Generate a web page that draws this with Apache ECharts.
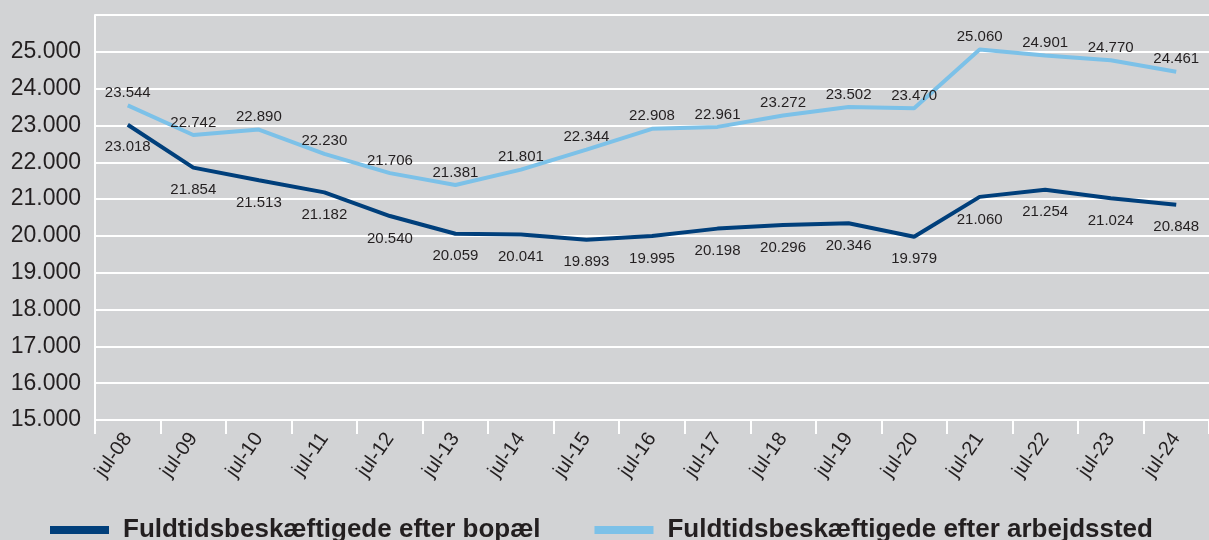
<!DOCTYPE html>
<html lang="da">
<head>
    <meta charset="UTF-8">
    <title>Fuldtidsbeskæftigede</title>
    <script src="https://cdn.jsdelivr.net/npm/echarts@6/dist/echarts.min.js"></script>
    <style>
        html, body { margin: 0; padding: 0; background: #d2d3d5; }
        #main { width: 1209px; height: 540px; }
    </style>
</head>
<body>
<div id="main"></div>
<script type="text/javascript">
    var categories = ['jul-08', 'jul-09', 'jul-10', 'jul-11', 'jul-12', 'jul-13', 'jul-14', 'jul-15', 'jul-16',
        'jul-17', 'jul-18', 'jul-19', 'jul-20', 'jul-21', 'jul-22', 'jul-23', 'jul-24'];
    var bopael = [23018, 21854, 21513, 21182, 20540, 20059, 20041, 19893, 19995,
        20198, 20296, 20346, 19979, 21060, 21254, 21024, 20848];
    var arbejdssted = [23544, 22742, 22890, 22230, 21706, 21381, 21801, 22344, 22908,
        22961, 23272, 23502, 23470, 25060, 24901, 24770, 24461];
    var seriesNames = ['Fuldtidsbeskæftigede efter bopæl', 'Fuldtidsbeskæftigede efter arbejdssted'];

    var textColor = '#231f20';
    var font = 'Liberation Sans, Arial, sans-serif';

    // dansk tusindtalsseparator
    function fmt(v) {
        return String(Math.round(v)).replace(/\B(?=(\d{3})+(?!\d))/g, '.');
    }

    var myChart = echarts.init(document.getElementById('main'), null, {renderer: 'canvas'});

    var option = {
        backgroundColor: '#d2d3d5',
        animation: false,
        textStyle: {fontFamily: font},
        grid: {left: 95, top: 15, right: -9, bottom: 120},
        legend: {
            left: 50,
            top: 517,
            padding: 0,
            itemWidth: 59,
            itemHeight: 8,
            itemGap: 54,
            icon: 'rect',
            textStyle: {fontSize: 26, fontWeight: 'bold', color: textColor, fontFamily: font, padding: [0, 0, 0, 9]},
            data: seriesNames
        },
        xAxis: {
            type: 'category',
            data: categories,
            boundaryGap: true,
            axisLine: {show: true, lineStyle: {color: '#ffffff', width: 2}},
            axisTick: {show: true, length: 14, lineStyle: {color: '#ffffff', width: 2}},
            axisLabel: {rotate: 55, fontSize: 20, color: textColor, margin: 15, fontFamily: font}
        },
        yAxis: {
            type: 'value',
            min: 15000,
            max: 26000,
            interval: 1000,
            axisLine: {show: true, lineStyle: {color: '#ffffff', width: 2}},
            axisTick: {show: false},
            splitLine: {lineStyle: {color: '#ffffff', width: 2}},
            axisLabel: {
                fontSize: 23, color: textColor, margin: 14, fontFamily: font,
                formatter: function (v) { return v >= 26000 ? '' : fmt(v); }
            }
        },
        series: [
            {
                name: seriesNames[0],
                type: 'line',
                data: bopael,
                symbol: 'circle',
                symbolSize: 0,
                color: '#003f7b',
                lineStyle: {width: 4, color: '#003f7b'},
                label: {
                    show: true, position: 'bottom', distance: 15,
                    fontSize: 15, color: textColor, fontFamily: font,
                    formatter: function (p) { return fmt(p.value); }
                }
            },
            {
                name: seriesNames[1],
                type: 'line',
                data: arbejdssted,
                symbol: 'circle',
                symbolSize: 0,
                color: '#7cc1e8',
                lineStyle: {width: 4, color: '#7cc1e8'},
                label: {
                    show: true, position: 'top', distance: 5,
                    fontSize: 15, color: textColor, fontFamily: font,
                    formatter: function (p) { return fmt(p.value); }
                }
            }
        ]
    };

    myChart.setOption(option);
</script>
</body>
</html>
